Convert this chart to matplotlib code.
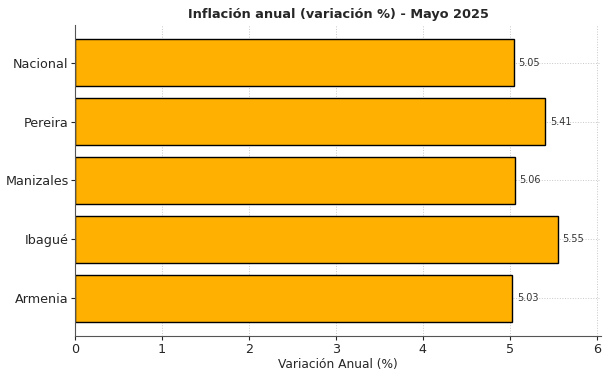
import matplotlib
matplotlib.use("Agg")
import matplotlib.pyplot as plt

ciudades = ["Armenia", "Ibagué", "Manizales", "Pereira", "Nacional"]
valores = [5.03, 5.55, 5.06, 5.41, 5.05]

fig, ax = plt.subplots(figsize=(6.09, 3.78), dpi=100)
bars = ax.barh(ciudades, valores, color="#FFB000", edgecolor="black", linewidth=1.0)

for b, v in zip(bars, valores):
    ax.text(b.get_width() + 0.05, b.get_y() + b.get_height() / 2, f"{v:.2f}",
            va="center", ha="left", fontsize=7, color="#333333")

ax.set_xlim(0, 6.05)
ax.set_xticks(range(7))
ax.set_title("Inflación anual (variación %) - Mayo 2025", fontsize=9.3, fontweight="bold",
             color="#262626", pad=5)
ax.set_xlabel("Variación Anual (%)", fontsize=8.8, color="#262626", labelpad=1.5)
ax.tick_params(labelsize=9.2, colors="#262626", length=3)
ax.tick_params(axis="y", pad=1.5)
ax.tick_params(axis="x", pad=2)
ax.grid(True, linestyle=":", color="#c8c8c8", linewidth=0.7)
ax.set_axisbelow(True)
ax.spines["top"].set_visible(False)
ax.spines["right"].set_visible(False)
ax.spines["left"].set_color("#555555")
ax.spines["bottom"].set_color("#555555")

plt.subplots_adjust(left=0.123, right=0.987, top=0.934, bottom=0.111)
plt.savefig("out.png", dpi=100)
